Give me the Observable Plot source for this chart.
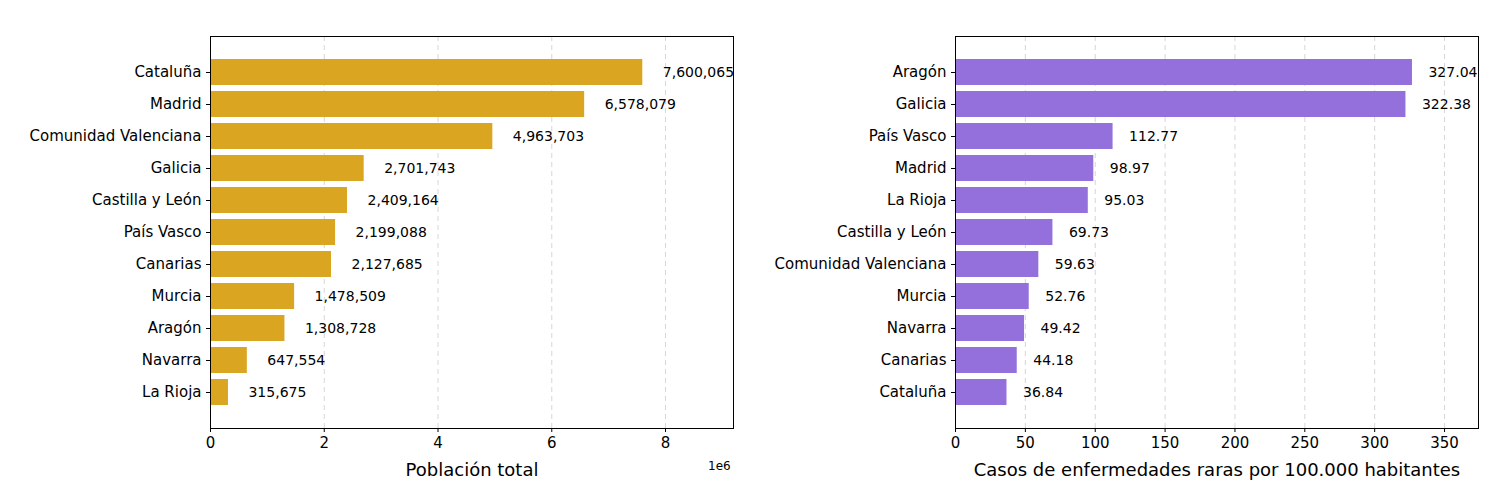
<!DOCTYPE html>
<html><head><meta charset="utf-8">
<script src="https://cdn.jsdelivr.net/npm/d3@7"></script>
<script src="https://cdn.jsdelivr.net/npm/@observablehq/plot@0.6"></script>
<style>
body{margin:0;background:#fff;font-family:"DejaVu Sans",sans-serif;}
#wrap{position:relative;width:1490px;height:490px;}
.p{position:absolute;top:0;}
.t{position:absolute;top:8px;font-size:19px;text-align:center;}
</style></head><body>
<div id="wrap">
<div class="t" style="left:210px;width:523px">Población total registrada por CCAA (2018)</div>
<div class="t" style="left:954px;width:524px">Tasa de notificación por CCAA (2018)</div>
<div id="a" class="p" style="left:0"></div>
<div id="b" class="p" style="left:745px"></div>
<div style="position:absolute;left:708px;top:459px;font-size:12px">1e6</div>
</div>
<script>
const popRegions=["Cataluña","Madrid","Comunidad Valenciana","Galicia","Castilla y León","País Vasco","Canarias","Murcia","Aragón","Navarra","La Rioja"];
const popValues=[7600065,6578079,4963703,2701743,2409164,2199088,2127685,1478509,1308728,647554,315675];
const rateRegions=["Aragón","Galicia","País Vasco","Madrid","La Rioja","Castilla y León","Comunidad Valenciana","Murcia","Navarra","Canarias","Cataluña"];
const rateValues=[327.04,322.38,112.77,98.97,95.03,69.73,59.63,52.76,49.42,44.18,36.84];
const popTicks=[0,2e6,4e6,6e6,8e6];
const rateTicks=[0,50,100,150,200,250,300,350];

function chart(regions,values,color,xmax,ticks,tickFmt,labelFmt,xlabel,offset){
  const data=regions.map((r,i)=>({r,v:values[i]}));
  return Plot.plot({
    width:745,height:490,marginLeft:210,marginRight:12,marginTop:36,marginBottom:62,
    style:{fontFamily:"DejaVu Sans",fontSize:"15px",color:"#000",background:"#fff"},
    x:{domain:[0,xmax],ticks,tickFormat:tickFmt,label:null,tickSize:4},
    y:{domain:regions,padding:0.2,paddingOuter:0.54,label:null,tickSize:4},
    marks:[
      Plot.gridX(ticks,{stroke:"#bbb",strokeDasharray:"5,4",strokeOpacity:0.6}),
      Plot.barX(data,{y:"r",x:"v",fill:color}),
      Plot.text(data,{y:"r",x:"v",text:d=>labelFmt(d.v),dx:offset,textAnchor:"start",fontSize:14}),
      Plot.frame({stroke:"#000"}),
      Plot.axisX({ticks,tickFormat:tickFmt,fontSize:15,label:null,tickSize:4}),
      Plot.axisY({fontSize:15,label:null,tickSize:4}),
      Plot.text([xlabel],{frameAnchor:"bottom",dy:47,fontSize:18,lineAnchor:"bottom"})
    ]
  });
}
const fmtC=d3.format(",");
document.getElementById("a").append(chart(popRegions,popValues,"#DAA520",9.195e6,popTicks,d=>d/1e6,fmtC,"Población total",20));
document.getElementById("b").append(chart(rateRegions,rateValues,"#9370DB",374.3,rateTicks,d=>d,d=>d.toFixed(2),"Casos de enfermedades raras por 100.000 habitantes",16));
</script>
</body></html>
